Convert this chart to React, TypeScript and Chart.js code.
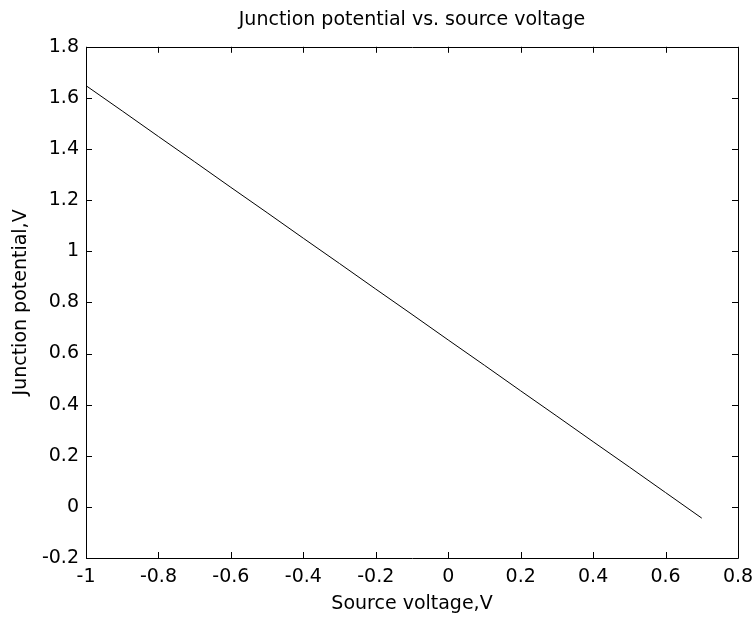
import React, { useEffect, useRef } from "react";
import { Chart, registerables } from "chart.js";

Chart.register(...registerables);

const sourceVoltage = [-1, -0.9, -0.8, -0.7, -0.6, -0.5, -0.4, -0.3, -0.2, -0.1, 0, 0.1, 0.2, 0.3, 0.4, 0.5, 0.6, 0.7];
const junctionPotential = [1.648, 1.549, 1.449, 1.35, 1.25, 1.151, 1.051, 0.952, 0.852, 0.753, 0.653, 0.554, 0.454, 0.355, 0.255, 0.156, 0.056, -0.044];
const xTicks = [-1, -0.8, -0.6, -0.4, -0.2, 0, 0.2, 0.4, 0.6, 0.8];
const yTicks = [-0.2, 0, 0.2, 0.4, 0.6, 0.8, 1, 1.2, 1.4, 1.6, 1.8];
const xTickLabels = ["-1", "-0.8", "-0.6", "-0.4", "-0.2", "0", "0.2", "0.4", "0.6", "0.8"];
const yTickLabels = ["-0.2", "0", "0.2", "0.4", "0.6", "0.8", "1", "1.2", "1.4", "1.6", "1.8"];

const FONT = "'DejaVu Sans', 'Liberation Sans', Arial, sans-serif";
const FS = 19;

const boxPlugin = {
  id: "matlabBox",
  afterDraw(chart: any) {
    const { ctx, chartArea } = chart;
    const { left, right, top, bottom } = chartArea;
    const xs = chart.scales.x;
    const ys = chart.scales.y;
    const len = 6;
    ctx.save();
    ctx.strokeStyle = "#000";
    ctx.lineWidth = 1;
    ctx.beginPath();
    ctx.rect(Math.round(left) + 0.5, Math.round(top) + 0.5, Math.round(right - left), Math.round(bottom - top));
    xTicks.forEach((v) => {
      const px = Math.round(xs.getPixelForValue(v)) + 0.5;
      ctx.moveTo(px, bottom);
      ctx.lineTo(px, bottom - len);
      ctx.moveTo(px, top);
      ctx.lineTo(px, top + len);
    });
    yTicks.forEach((v) => {
      const py = Math.round(ys.getPixelForValue(v)) + 0.5;
      ctx.moveTo(left, py);
      ctx.lineTo(left + len, py);
      ctx.moveTo(right, py);
      ctx.lineTo(right - len, py);
    });
    ctx.stroke();
    ctx.restore();
  },
};

export default function App() {
  const ref = useRef<HTMLCanvasElement | null>(null);

  useEffect(() => {
    document.body.style.margin = "0";
    const canvas = ref.current;
    if (!canvas) return;
    const chart = new Chart(canvas, {
      type: "line",
      data: {
        datasets: [
          {
            data: sourceVoltage.map((x, i) => ({ x, y: junctionPotential[i] })),
            borderColor: "#000",
            borderWidth: 1,
            pointRadius: 0,
            fill: false,
            tension: 0,
          },
        ],
      },
      options: {
        animation: false,
        responsive: false,
        maintainAspectRatio: false,
        layout: { padding: { left: 0, right: 17, top: 0, bottom: 0 } },
        plugins: {
          legend: { display: false },
          tooltip: { enabled: false },
          title: {
            display: true,
            fullSize: false,
            text: "Junction potential vs. source voltage",
            color: "#000",
            font: { family: FONT, size: FS, weight: "normal" },
            padding: { top: 9, bottom: 15 },
          },
        },
        scales: {
          x: {
            type: "linear",
            min: -1,
            max: 0.8,
            afterBuildTicks: (s: any) => {
              s.ticks = xTicks.map((v) => ({ value: v }));
            },
            afterFit: (s: any) => {
              s.height = 63;
              s.paddingLeft = 0;
              s.paddingRight = 0;
            },
            ticks: {
              color: "#000",
              font: { family: FONT, size: FS },
              padding: 8,
              maxRotation: 0,
              autoSkip: false,
              callback: (v: any) => {
                const i = xTicks.findIndex((t) => Math.abs(t - Number(v)) < 1e-9);
                return i >= 0 ? xTickLabels[i] : "";
              },
            },
            grid: { display: false, drawTicks: false },
            border: { display: false },
            title: {
              display: true,
              text: "Source voltage,V",
              color: "#000",
              font: { family: FONT, size: FS },
              padding: { top: 0, bottom: 6 },
            },
          },
          y: {
            type: "linear",
            min: -0.2,
            max: 1.8,
            afterBuildTicks: (s: any) => {
              s.ticks = yTicks.map((v) => ({ value: v }));
            },
            afterFit: (s: any) => {
              s.width = 86;
              s.paddingTop = 0;
              s.paddingBottom = 0;
            },
            ticks: {
              color: "#000",
              font: { family: FONT, size: FS },
              padding: 7,
              autoSkip: false,
              callback: (v: any) => {
                const i = yTicks.findIndex((t) => Math.abs(t - Number(v)) < 1e-9);
                return i >= 0 ? yTickLabels[i] : "";
              },
            },
            grid: { display: false, drawTicks: false },
            border: { display: false },
            title: {
              display: true,
              text: "Junction potential,V",
              color: "#000",
              font: { family: FONT, size: FS },
              padding: { top: 10, bottom: 0 },
            },
          },
        },
      },
      plugins: [boxPlugin],
    } as any);
    return () => chart.destroy();
  }, []);

  return (
    <div style={{ position: "relative", width: 755, height: 621, background: "#fff" }}>
      <canvas ref={ref} width={755} height={621} style={{ display: "block", width: 755, height: 621 }} />
    </div>
  );
}
